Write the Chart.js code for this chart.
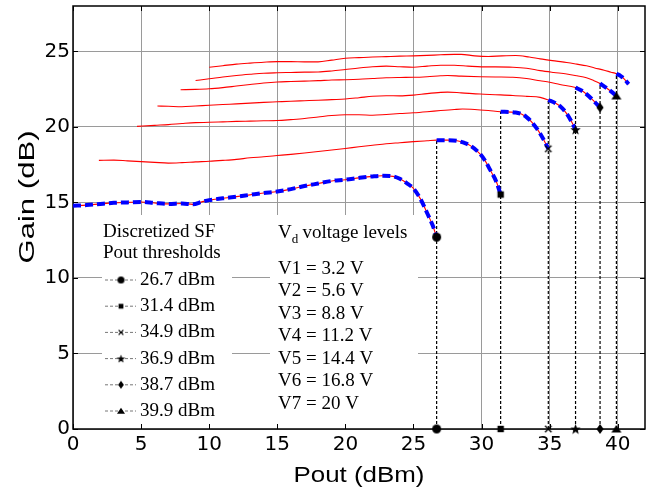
<!DOCTYPE html>
<html>
<head>
<meta charset="utf-8">
<script src="https://cdn.jsdelivr.net/npm/chart.js@4.4.0/dist/chart.umd.min.js"></script>
<style>
  html, body { margin: 0; padding: 0; background: #fff; }
  canvas { display: block; }
</style>
</head>
<body>
<canvas id="chart" width="656" height="492"></canvas>
<script>
// Gain vs Pout for each drain voltage level
var v1Pout = [0, 1, 2, 3, 4, 5, 6, 7, 8, 8.8, 9.5, 10, 11, 12, 13, 14, 15, 16, 17, 18, 19, 20, 21, 22, 22.7, 23.5, 24, 24.5, 25, 25.5, 26, 26.4, 26.7];
var v1Gain = [14.78, 14.82, 14.9, 14.97, 15.0, 15.03, 14.96, 14.9, 14.93, 14.87, 15.05, 15.15, 15.27, 15.38, 15.5, 15.62, 15.72, 15.88, 16.08, 16.25, 16.42, 16.5, 16.62, 16.72, 16.76, 16.72, 16.56, 16.28, 15.92, 15.25, 14.3, 13.5, 12.7];

var v2Pout = [1.9, 3, 4, 5, 6, 7, 8, 9, 10, 11, 12, 13, 14, 15, 16, 17, 18, 19, 20, 21, 22, 23, 24, 25, 26, 26.7, 27.5, 28.2, 28.7, 29.2, 29.9, 30.3, 30.6, 31.1, 31.4];
var v2Gain = [17.78, 17.8, 17.75, 17.7, 17.65, 17.6, 17.63, 17.68, 17.72, 17.78, 17.85, 17.95, 18.02, 18.1, 18.18, 18.27, 18.37, 18.47, 18.57, 18.68, 18.78, 18.88, 18.95, 19.02, 19.08, 19.12, 19.12, 19.08, 18.95, 18.74, 18.2, 17.7, 17.2, 16.33, 15.52];

var v3Pout = [4.7, 6, 7, 8, 9, 10, 11, 12, 13, 14, 15, 16, 17, 18, 19, 20, 21, 22, 23, 24, 25, 26, 27, 28, 28.6, 29.5, 30.5, 31.4, 32.5, 33.3, 34.05, 34.5, 34.9];
var v3Gain = [20.03, 20.1, 20.15, 20.22, 20.28, 20.3, 20.33, 20.36, 20.38, 20.4, 20.42, 20.48, 20.55, 20.65, 20.75, 20.8, 20.8, 20.77, 20.82, 20.88, 20.93, 21.0, 21.08, 21.15, 21.18, 21.15, 21.08, 21.0, 20.95, 20.65, 19.9, 19.25, 18.55];

var v4Pout = [6.2, 7, 8, 9, 10, 11, 12, 13, 14, 15, 16, 17, 18, 19, 20, 21, 22, 23, 24, 25, 26, 27, 27.5, 28.5, 29.9, 31, 32.3, 33.3, 34.3, 34.9, 35.4, 35.75, 36.25, 36.6, 36.9];
var v4Gain = [21.38, 21.36, 21.33, 21.38, 21.43, 21.48, 21.52, 21.57, 21.62, 21.66, 21.7, 21.73, 21.76, 21.8, 21.84, 21.93, 22.03, 22.06, 22.05, 22.1, 22.2, 22.28, 22.3, 22.25, 22.17, 22.13, 22.08, 22.02, 21.95, 21.78, 21.58, 21.38, 20.88, 20.35, 19.82];

var v5Pout = [7.9, 9, 10, 11, 12, 13, 14, 15, 16, 17, 18, 19, 20, 21, 22, 23, 24, 25, 26, 27, 27.5, 28.5, 29.9, 31, 32.3, 33.3, 34.3, 35, 35.75, 36.9, 37.3, 37.7, 38.2, 38.7];
var v5Gain = [22.46, 22.48, 22.52, 22.6, 22.7, 22.8, 22.9, 22.97, 23.0, 23.03, 23.06, 23.1, 23.12, 23.15, 23.2, 23.25, 23.27, 23.28, 23.32, 23.38, 23.4, 23.36, 23.32, 23.3, 23.28, 23.2, 23.05, 22.95, 22.8, 22.6, 22.42, 22.17, 21.75, 21.28];

var v6Pout = [9, 10, 11, 12, 13, 14, 15, 16, 17, 18, 19, 20, 21, 22, 23, 24, 25, 26, 27, 28, 29, 30, 31, 32.3, 33.3, 34.3, 35.3, 36.25, 37, 37.7, 38.2, 38.7, 39.2, 39.6, 39.9];
var v6Gain = [23.07, 23.18, 23.3, 23.4, 23.48, 23.55, 23.58, 23.6, 23.62, 23.63, 23.7, 23.8, 23.9, 23.98, 24.02, 23.98, 23.95, 24.02, 24.08, 24.08, 24.02, 23.97, 23.97, 23.95, 23.88, 23.72, 23.6, 23.5, 23.38, 23.25, 23.08, 22.87, 22.56, 22.28, 22.05];

var v7Pout = [10, 11, 12, 13, 14, 15, 16, 17, 18, 19, 20, 21, 22, 23, 24, 25, 26, 27, 28, 28.5, 29.5, 30.5, 31.5, 32.5, 33.5, 34.3, 35.5, 36.25, 37, 37.7, 38.3, 39, 39.5, 39.9, 40.2, 40.5, 40.8];
var v7Gain = [23.95, 24.05, 24.15, 24.22, 24.28, 24.32, 24.32, 24.3, 24.3, 24.42, 24.54, 24.58, 24.62, 24.65, 24.68, 24.7, 24.73, 24.77, 24.8, 24.8, 24.7, 24.66, 24.7, 24.72, 24.62, 24.5, 24.35, 24.26, 24.15, 24.04, 23.9, 23.75, 23.62, 23.52, 23.38, 23.15, 22.83];

var thresholdPout = [26.7, 31.4, 34.9, 36.9, 38.7, 39.9];
var markerShapes  = ['circle', 'square', 'x', 'star', 'diamond', 'triangle'];
var voltageLevels = [3.2, 5.6, 8.8, 11.2, 14.4, 16.8, 20];

var xTicks = [0, 5, 10, 15, 20, 25, 30, 35, 40];
var yTicks = [0, 5, 10, 15, 20, 25];

var curves = [
  [v1Pout, v1Gain], [v2Pout, v2Gain], [v3Pout, v3Gain], [v4Pout, v4Gain],
  [v5Pout, v5Gain], [v6Pout, v6Gain], [v7Pout, v7Gain]
];

function toPoints(xs, ys, lo, hi) {
  var pts = [];
  for (var i = 0; i < xs.length; i++) {
    if (xs[i] >= lo - 1e-9 && xs[i] <= hi + 1e-9) pts.push({x: xs[i], y: ys[i]});
  }
  return pts;
}

function gainAt(c, x) {
  var i = c[0].indexOf(x);
  return c[1][i];
}

function makeMarker(shape, s) {
  var n = Math.ceil(s + 4);
  var c = document.createElement('canvas');
  c.width = n; c.height = n;
  var g = c.getContext('2d');
  var m = n / 2, r = s / 2;
  g.fillStyle = '#000';
  g.strokeStyle = '#000';
  g.lineWidth = 1.3;
  g.beginPath();
  if (shape === 'circle') {
    g.arc(m, m, r, 0, Math.PI * 2);
    g.fill();
  } else if (shape === 'square') {
    g.fillRect(m - r * 0.8, m - r * 0.8, r * 1.6, r * 1.6);
  } else if (shape === 'x') {
    var k = r * 0.8;
    g.moveTo(m - k, m - k); g.lineTo(m + k, m + k);
    g.moveTo(m + k, m - k); g.lineTo(m - k, m + k);
    g.stroke();
  } else if (shape === 'star') {
    for (var j = 0; j < 10; j++) {
      var rr = j % 2 ? r * 0.42 : r;
      var a = -Math.PI / 2 + j * Math.PI / 5;
      var px = m + rr * Math.cos(a), py = m + rr * Math.sin(a) + r * 0.1;
      if (j === 0) g.moveTo(px, py); else g.lineTo(px, py);
    }
    g.closePath();
    g.fill();
  } else if (shape === 'diamond') {
    g.moveTo(m, m - r); g.lineTo(m + r * 0.72, m); g.lineTo(m, m + r); g.lineTo(m - r * 0.72, m);
    g.closePath();
    g.fill();
  } else if (shape === 'triangle') {
    g.moveTo(m, m - r * 0.8); g.lineTo(m + r, m + r * 0.7); g.lineTo(m - r, m + r * 0.7);
    g.closePath();
    g.fill();
  }
  return c;
}

var plotSizes   = {circle: 9, square: 8, x: 8, star: 11, diamond: 10, triangle: 10};
var legendSizes = {circle: 7, square: 6, x: 6, star: 9, diamond: 8, triangle: 8};
var plotMarkers   = markerShapes.map(function(s) { return makeMarker(s, plotSizes[s]); });
var legendMarkers = markerShapes.map(function(s) { return makeMarker(s, legendSizes[s]); });

var datasets = [];

// markers at threshold (on curve end and on the Pout axis)
thresholdPout.forEach(function(t, i) {
  datasets.push({
    data: [{x: t, y: 0}, {x: t, y: gainAt(curves[i], t)}],
    showLine: false,
    pointStyle: plotMarkers[i],
    pointRadius: 5,
    clip: false,
    order: 0
  });
});

// blue dashed: the selected operating segment of each curve
curves.forEach(function(c, i) {
  var lo = i === 0 ? c[0][0] : thresholdPout[i - 1];
  var hi = i < thresholdPout.length ? thresholdPout[i] : c[0][c[0].length - 1];
  datasets.push({
    data: toPoints(c[0], c[1], lo, hi),
    showLine: true,
    borderColor: '#0000ff',
    borderWidth: 4,
    borderDash: [8, 4],
    pointRadius: 0,
    cubicInterpolationMode: 'monotone',
    order: 1
  });
});

// black dashed verticals from the axis to the next voltage curve
thresholdPout.forEach(function(t, i) {
  datasets.push({
    data: [{x: t, y: 0}, {x: t, y: gainAt(curves[i + 1], t)}],
    showLine: true,
    borderColor: '#000',
    borderWidth: 1.2,
    borderDash: [3, 2],
    pointRadius: 0,
    order: 2
  });
});

// red: full gain curves
curves.forEach(function(c) {
  datasets.push({
    data: toPoints(c[0], c[1], -1, 99),
    showLine: true,
    borderColor: '#ff0000',
    borderWidth: 1.1,
    pointRadius: 0,
    cubicInterpolationMode: 'monotone',
    order: 3
  });
});

var boxes = [[102, 215, 232, 428], [270, 215, 418, 428]];

var decorations = {
  id: 'decorations',
  beforeDatasetsDraw: function(chart) {
    var ctx = chart.ctx, a = chart.chartArea;
    var xs = chart.scales.x, ys = chart.scales.y;
    ctx.save();
    ctx.fillStyle = '#fff';
    boxes.forEach(function(b) { ctx.fillRect(b[0], b[1], b[2] - b[0], b[3] - b[1]); });
    ctx.strokeStyle = '#000';
    ctx.lineWidth = 1;
    ctx.beginPath();
    xTicks.forEach(function(v) {
      var px = Math.round(xs.getPixelForValue(v)) + 0.5;
      ctx.moveTo(px, a.bottom); ctx.lineTo(px, a.bottom - 5);
      ctx.moveTo(px, a.top); ctx.lineTo(px, a.top + 5);
    });
    yTicks.forEach(function(v) {
      var py = Math.round(ys.getPixelForValue(v)) + 0.5;
      ctx.moveTo(a.left, py); ctx.lineTo(a.left + 5, py);
      ctx.moveTo(a.right, py); ctx.lineTo(a.right - 5, py);
    });
    ctx.stroke();
    ctx.lineWidth = 1.5;
    ctx.strokeRect(a.left, a.top, a.right - a.left, a.bottom - a.top);
    ctx.restore();
  },
  afterDraw: function(chart) {
    var ctx = chart.ctx;
    ctx.save();
    ctx.fillStyle = '#000';
    ctx.textBaseline = 'middle';
    ctx.textAlign = 'left';
    var serif = '"Liberation Serif", "Times New Roman", serif';
    ctx.font = '19px ' + serif;
    ctx.fillText('Discretized SF', 103, 232);
    ctx.fillText('Pout thresholds', 103, 253);
    thresholdPout.forEach(function(t, i) {
      var yy = 280 + i * 26.2;
      ctx.save();
      ctx.strokeStyle = '#777';
      ctx.lineWidth = 1;
      ctx.setLineDash([3, 2]);
      ctx.beginPath();
      ctx.moveTo(105, yy); ctx.lineTo(136, yy);
      ctx.stroke();
      ctx.restore();
      var mk = legendMarkers[i];
      ctx.drawImage(mk, 121 - mk.width / 2, yy - mk.height / 2);
      ctx.fillText(t.toFixed(1) + ' dBm', 140, yy);
    });

    ctx.fillText('V', 278, 233);
    var w = ctx.measureText('V').width;
    ctx.font = '13px ' + serif;
    ctx.fillText('d', 278 + w, 240);
    ctx.font = '19px ' + serif;
    ctx.fillText(' voltage levels', 278 + w + 6, 233);
    voltageLevels.forEach(function(v, i) {
      ctx.fillText('V' + (i + 1) + ' = ' + v + ' V', 278, 269 + i * 22.5);
    });

    // axis titles
    ctx.font = '22px "Liberation Sans", Arial, sans-serif';
    ctx.textAlign = 'center';
    ctx.textBaseline = 'alphabetic';
    var xt = 'Pout (dBm)';
    var sx = 131 / ctx.measureText(xt).width;
    ctx.save();
    ctx.translate(359, 482);
    ctx.scale(sx, 1);
    ctx.fillText(xt, 0, 0);
    ctx.restore();
    var yt = 'Gain (dB)';
    var sy = 133 / ctx.measureText(yt).width;
    ctx.save();
    ctx.translate(33.5, 197);
    ctx.rotate(-Math.PI / 2);
    ctx.scale(sy, 1);
    ctx.fillText(yt, 0, 0);
    ctx.restore();
    ctx.restore();
  }
};

var tickFont = {family: '"DejaVu Sans", sans-serif', size: 20};

function noPad(s) {
  s.paddingTop = 0; s.paddingBottom = 0;
  s.paddingLeft = 0; s.paddingRight = 0;
}

new Chart(document.getElementById('chart'), {
  type: 'scatter',
  data: {datasets: datasets},
  options: {
    responsive: false,
    animation: false,
    layout: {padding: {top: 5, right: 11, left: 0, bottom: 0}},
    plugins: {legend: {display: false}, tooltip: {enabled: false}},
    scales: {
      x: {
        type: 'linear',
        min: 0,
        max: 42,
        afterBuildTicks: function(s) { s.ticks = xTicks.map(function(v) { return {value: v}; }); },
        afterFit: function(s) { s.height = 63; noPad(s); },
        grid: {color: '#9a9a9a', lineWidth: 1, drawTicks: false},
        border: {display: false},
        ticks: {font: tickFont, color: '#000', padding: 4, maxRotation: 0, autoSkip: false}
      },
      y: {
        type: 'linear',
        min: 0,
        max: 28,
        afterBuildTicks: function(s) { s.ticks = yTicks.map(function(v) { return {value: v}; }); },
        afterFit: function(s) { s.width = 73; noPad(s); },
        grid: {color: '#9a9a9a', lineWidth: 1, drawTicks: false},
        border: {display: false},
        ticks: {font: tickFont, color: '#000', padding: 3, autoSkip: false}
      }
    }
  },
  plugins: [decorations]
});
</script>
</body>
</html>
